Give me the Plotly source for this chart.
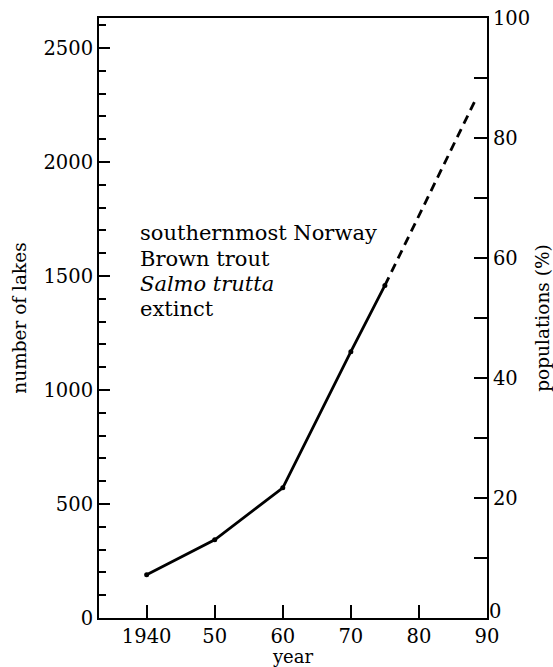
import plotly.graph_objects as go

years = [1940, 1950, 1960, 1970, 1975]
lakes = [190, 343, 571, 1168, 1459]
proj_years = [1975, 1988.5]
proj_lakes = [1459, 2285]

x_tickvals = [1940, 1950, 1960, 1970, 1980, 1990]
x_ticktext = ["1940", "50", "60", "70", "80", "90"]
y_tickvals = [0, 500, 1000, 1500, 2000, 2500]
y2_tickvals = [0, 10, 20, 30, 40, 50, 60, 70, 80, 90, 100]
y2_ticktext = ["", "", "20", "", "40", "", "60", "", "80", "", "100"]
y2_zero_label = "0"

note_lines = ["southernmost Norway", "Brown trout", "<i>Salmo trutta</i>", "extinct"]
note_y = [1687, 1577, 1463, 1357]

FONT = "DejaVu Serif"
fig = go.Figure()
fig.add_trace(go.Scatter(x=years, y=lakes, mode="lines+markers",
                         line=dict(color="black", width=2.8),
                         marker=dict(color="black", size=5), showlegend=False))
fig.add_trace(go.Scatter(x=proj_years, y=proj_lakes, mode="lines",
                         line=dict(color="black", width=2.8, dash="9px,6px"),
                         showlegend=False))
fig.add_trace(go.Scatter(x=[1990], y=[0], yaxis="y2", mode="markers",
                         marker=dict(opacity=0), showlegend=False, hoverinfo="skip"))

for t, yv in zip(note_lines, note_y):
    fig.add_annotation(x=1938.7, y=yv, xref="x", yref="y", xanchor="left", yanchor="middle",
                       align="left", showarrow=False, text=t,
                       font=dict(family=FONT, size=21, color="black"))

fig.add_annotation(x=1, y=0, xref="paper", yref="y2", xanchor="left", yanchor="bottom",
                   xshift=1, yshift=-6, borderpad=0, showarrow=False, text=y2_zero_label,
                   font=dict(family=FONT, size=19.5, color="black"))

fig.update_layout(
    width=553, height=667,
    margin=dict(l=99, r=66, t=18, b=49),
    paper_bgcolor="white", plot_bgcolor="white",
    font=dict(family=FONT, size=19.5, color="black"),
    xaxis=dict(range=[1933, 1990], tickvals=x_tickvals, ticktext=x_ticktext,
               ticks="inside", ticklen=13, tickwidth=2, tickcolor="black",
               showline=True, linecolor="black", linewidth=2, mirror=True,
               showgrid=False, zeroline=False, automargin=False,
               title=dict(text="year", font=dict(family=FONT, size=18), standoff=0)),
    yaxis=dict(range=[0, 2632], tickvals=y_tickvals,
               ticks="inside", ticklen=11, tickwidth=2, tickcolor="black",
               minor=dict(dtick=100, ticks="inside", ticklen=7, tickwidth=1.5, tickcolor="black", showgrid=False),
               showline=True, linecolor="black", linewidth=2,
               showgrid=False, zeroline=False, automargin=False,
               title=dict(text="number of lakes", font=dict(family=FONT, size=18.5), standoff=12)),
    yaxis2=dict(range=[0, 100], overlaying="y", side="right",
                tickvals=y2_tickvals, ticktext=y2_ticktext,
                ticks="inside", ticklen=13, tickwidth=2, tickcolor="black",
                showline=True, linecolor="black", linewidth=2,
                showgrid=False, zeroline=False, automargin=False,
                title=dict(text="populations (%)", font=dict(family=FONT, size=18.5), standoff=8)),
)
fig.write_html("out.html", post_script="document.body.style.margin='0';",
               config={"displayModeBar": False})
